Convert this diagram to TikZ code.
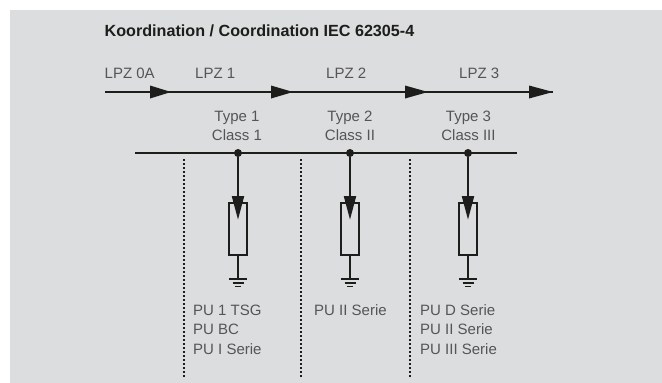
\documentclass[tikz,border=0pt]{standalone}
\usepackage{fontspec}
\setmainfont{Liberation Sans}
\definecolor{bgc}{HTML}{DCDDDF}
\definecolor{inkc}{HTML}{1D1D1B}
\definecolor{txtc}{HTML}{555555}
\begin{document}
\begin{tikzpicture}[x=1pt,y=-1pt,
  lbl/.style={inner sep=0pt,text=txtc,font=\fontsize{15}{18}\selectfont},
  heavy/.style={draw=inkc,line width=2pt},
  dotline/.style={draw=inkc,line width=2pt,dash pattern=on 2pt off 2pt},
  boxr/.style={draw=inkc,line width=2pt,fill=none,minimum width=18pt,minimum height=52pt,inner sep=0pt,outer sep=0pt},
  junction/.style={circle,fill=inkc,draw=none,minimum size=8pt,inner sep=0pt}]
\useasboundingbox (0,0) rectangle (662,383);
\fill[white] (0,0) rectangle (662,383);
\fill[bgc] (10,10) rectangle (662,383);
\node[anchor=base west,inner sep=0pt,text=inkc,font=\fontsize{16.15}{19}\selectfont\bfseries] (title) at (104.5,36) {Koordination / Coordination IEC 62305-4};
% top line
\coordinate (zs) at (105,92); \coordinate (ze) at (553,92);
\draw[heavy] (zs) -- (ze);
\foreach \a/\b in {150/171,271/293,405/428,529/553}{
  \fill[inkc] (\a,85.5) -- (\b,92) -- (\a,98.5) -- cycle;
}
\node[lbl,anchor=base west] (l0) at (104.5,78) {LPZ 0A};
\node[lbl,anchor=base west] (l1) at (195,78) {LPZ 1};
\node[lbl,anchor=base west] (l2) at (326,78) {LPZ 2};
\node[lbl,anchor=base west] (l3) at (459,78) {LPZ 3};
% type labels
\node[lbl,anchor=base] (t1) at (237,121) {Type 1};
\node[lbl,anchor=base] (c1) at (237,140) {Class 1};
\node[lbl,anchor=base] (t2) at (350,121) {Type 2};
\node[lbl,anchor=base] (c2) at (350,140) {Class II};
\node[lbl,anchor=base] (t3) at (468.5,121) {Type 3};
\node[lbl,anchor=base] (c3) at (468.5,140) {Class III};
% bus
\coordinate (bs) at (135,153); \coordinate (be) at (517,153);
\draw[heavy] (bs) -- (be);
\foreach \n/\x in {a/238,b/350,c/468}{
  \node[junction] (j\n) at (\x,153) {};
  \node[boxr] (r\n) at (\x,229) {};
  \coordinate (g\n) at (\x,279);
  \draw[heavy] (j\n) -- (r\n.north);
  \draw[heavy] (r\n.south) -- (g\n);
  \fill[inkc] (\x-6.3,196) -- (\x+6.3,196) -- (\x,219.5) -- cycle;
  \draw[inkc,line width=2pt] (\x-9,279) -- (\x+9,279);
  \draw[inkc,line width=1.7pt] (\x-5.5,282.9) -- (\x+5.5,282.9);
  \draw[inkc,line width=1.7pt] (\x-2.8,286.6) -- (\x+2.8,286.6);
}
% dotted separators
\foreach \n/\x in {a/183.5,b/301,c/410}{
  \coordinate (ds\n) at (\x,159); \coordinate (de\n) at (\x,378);
  \draw[dotline] (ds\n) -- (de\n);
}
% lists
\node[lbl,anchor=base west] (p1) at (193,315) {PU 1 TSG};
\node[lbl,anchor=base west] (p2) at (193,334) {PU BC};
\node[lbl,anchor=base west] (p3) at (193,354) {PU I Serie};
\node[lbl,anchor=base west] (q1) at (314,315) {PU II Serie};
\node[lbl,anchor=base west] (s1) at (420,315) {PU D Serie};
\node[lbl,anchor=base west] (s2) at (420,334) {PU II Serie};
\node[lbl,anchor=base west] (s3) at (420,354) {PU III Serie};
\end{tikzpicture}
\end{document}
